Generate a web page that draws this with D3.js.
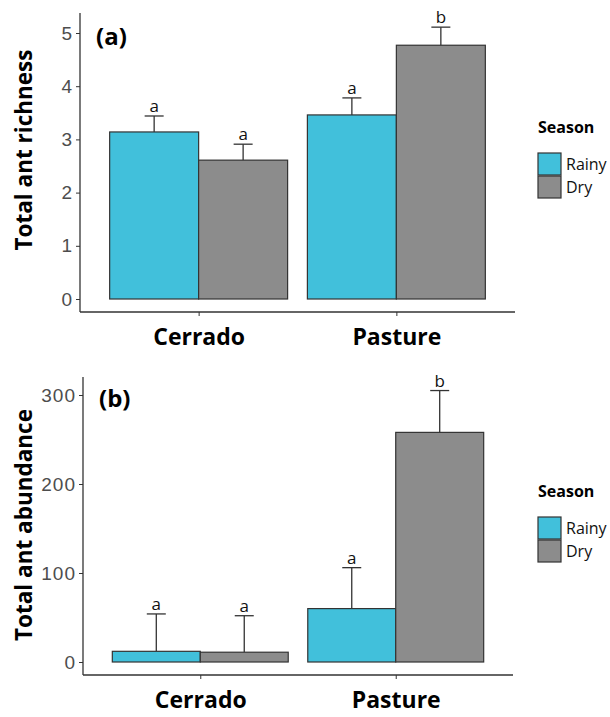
<!DOCTYPE html>
<html>
<meta charset="utf-8">
<style>
  body { margin: 0; background: #fff; }
  text { font-family: "Open Sans", sans-serif; }
  .ytick text { font-family: "Liberation Sans", Arial, sans-serif; letter-spacing: 1px; }
</style>
<script src="https://d3js.org/d3.v7.min.js"></script>
<body>
<script>
var svgWidth = 610, svgHeight = 717;

var habitats = ["Cerrado", "Pasture"];
var seasons = ["Rainy", "Dry"];
var seasonColors = ["#41c0db", "#8c8c8c"];

// panel (a) total ant richness
var richRainy = [3.14, 3.46];
var richDry = [2.61, 4.77];
var richRainyErr = [3.44, 3.78];
var richDryErr = [2.91, 5.11];
var richLetters = [["a", "a"], ["a", "b"]];
var richTicks = [0, 1, 2, 3, 4, 5];

// panel (b) total ant abundance
var abunRainy = [12, 60];
var abunDry = [11, 258];
var abunRainyErr = [54, 106];
var abunDryErr = [52, 305];
var abunLetters = [["a", "a"], ["a", "b"]];
var abunTicks = [0, 100, 200, 300];

var svg = d3.select("body").append("svg")
  .attr("width", svgWidth)
  .attr("height", svgHeight);

function panel(opt) {
  var g = svg.append("g");

  var x = d3.scalePoint()
    .domain(habitats)
    .range([opt.left, opt.right])
    .padding(0.6);
  var step = x.step();
  var barW = step * 0.9 / 2;

  var y = d3.scaleLinear()
    .domain([0, d3.max(opt.ticks)])
    .range([opt.zero, opt.topTick]);

  // rows: one per habitat x season
  var rows = [];
  habitats.forEach(function(h, i) {
    rows.push({ h: h, s: 0, v: opt.rainy[i], e: opt.rainyErr[i], lab: opt.letters[i][0] });
    rows.push({ h: h, s: 1, v: opt.dry[i], e: opt.dryErr[i], lab: opt.letters[i][1] });
  });
  function cx(d) { return x(d.h) - barW + d.s * barW + barW / 2; }

  // error bars (upper only)
  var eb = g.selectAll(".err").data(rows).enter().append("g");
  eb.append("line")
    .attr("x1", cx).attr("x2", cx)
    .attr("y1", function(d) { return y(d.v); })
    .attr("y2", function(d) { return y(d.e); })
    .attr("stroke", "#333").attr("stroke-width", 1.3);
  eb.append("line")
    .attr("x1", function(d) { return cx(d) - 9.5; })
    .attr("x2", function(d) { return cx(d) + 9.5; })
    .attr("y1", function(d) { return y(d.e); })
    .attr("y2", function(d) { return y(d.e); })
    .attr("stroke", "#333").attr("stroke-width", 1.3);
  eb.append("text")
    .attr("x", cx)
    .attr("y", function(d) { return y(d.e) - 4; })
    .attr("text-anchor", "middle")
    .attr("font-size", 17)
    .attr("fill", "#111")
    .text(function(d) { return d.lab; });

  // bars
  g.selectAll(".bar").data(rows).enter().append("rect")
    .attr("x", function(d) { return x(d.h) - barW + d.s * barW; })
    .attr("y", function(d) { return y(d.v); })
    .attr("width", barW)
    .attr("height", function(d) { return y(0) - y(d.v); })
    .attr("fill", function(d) { return seasonColors[d.s]; })
    .attr("stroke", "#333")
    .attr("stroke-width", 1.2);

  // y axis
  var yAxis = g.append("g")
    .attr("class", "ytick")
    .attr("transform", "translate(" + opt.left + ",0)")
    .call(d3.axisLeft(y).tickValues(opt.ticks).tickFormat(d3.format("d")).tickSize(4).tickPadding(3));
  yAxis.select(".domain").remove();
  yAxis.selectAll("line").attr("stroke", "#333");
  yAxis.selectAll("text")
    .attr("font-size", 19)
    .attr("fill", "#4d4d4d");

  // x axis
  var xAxis = g.append("g")
    .attr("transform", "translate(0," + opt.bottom + ")")
    .call(d3.axisBottom(x).tickSize(4).tickPadding(13));
  xAxis.select(".domain").remove();
  xAxis.selectAll("line").attr("stroke", "#333");
  xAxis.selectAll("text")
    .attr("font-size", 23)
    .attr("font-weight", "bold")
    .attr("fill", "#000");

  // axis lines
  g.append("line")
    .attr("x1", opt.left).attr("x2", opt.left)
    .attr("y1", opt.top).attr("y2", opt.bottom)
    .attr("stroke", "#333").attr("stroke-width", 1.3);
  g.append("line")
    .attr("x1", opt.left).attr("x2", opt.right)
    .attr("y1", opt.bottom).attr("y2", opt.bottom)
    .attr("stroke", "#333").attr("stroke-width", 1.3);

  // panel tag
  g.append("text")
    .attr("x", opt.left + 16)
    .attr("y", opt.topTick + 12)
    .attr("font-size", 24)
    .attr("font-weight", "bold")
    .text(opt.tag);

  // y title
  g.append("text")
    .attr("transform", "translate(" + 32 + "," + opt.ytitleY + ") rotate(-90)")
    .attr("text-anchor", "middle")
    .attr("font-size", 22.5)
    .attr("font-weight", "bold")
    .text(opt.ytitle);

  // legend
  var lg = g.append("g").attr("transform", "translate(538," + opt.legendY + ")");
  lg.append("text")
    .attr("x", 0).attr("y", 0)
    .attr("font-size", 16)
    .attr("font-weight", "bold")
    .text("Season");
  var items = lg.selectAll(".key").data(seasons).enter().append("g")
    .attr("transform", function(d, i) { return "translate(0," + (20 + i * 23) + ")"; });
  items.append("rect")
    .attr("width", 23).attr("height", 22)
    .attr("fill", function(d, i) { return seasonColors[i]; })
    .attr("stroke", "#333").attr("stroke-width", 1.2);
  items.append("text")
    .attr("x", 28).attr("y", 17)
    .attr("font-size", 16)
    .attr("fill", "#111")
    .text(function(d) { return d; });
}

panel({
  tag: "(a)", ytitle: "Total ant richness", ytitleY: 150,
  left: 80, right: 515, top: 13, bottom: 312, zero: 299, topTick: 33,
  ticks: richTicks, rainy: richRainy, dry: richDry,
  rainyErr: richRainyErr, dryErr: richDryErr, letters: richLetters,
  legendY: 133
});

panel({
  tag: "(b)", ytitle: "Total ant abundance", ytitleY: 525,
  left: 83, right: 513, top: 377, bottom: 675, zero: 662, topTick: 395,
  ticks: abunTicks, rainy: abunRainy, dry: abunDry,
  rainyErr: abunRainyErr, dryErr: abunDryErr, letters: abunLetters,
  legendY: 497
});
</script>
</body>
</html>
